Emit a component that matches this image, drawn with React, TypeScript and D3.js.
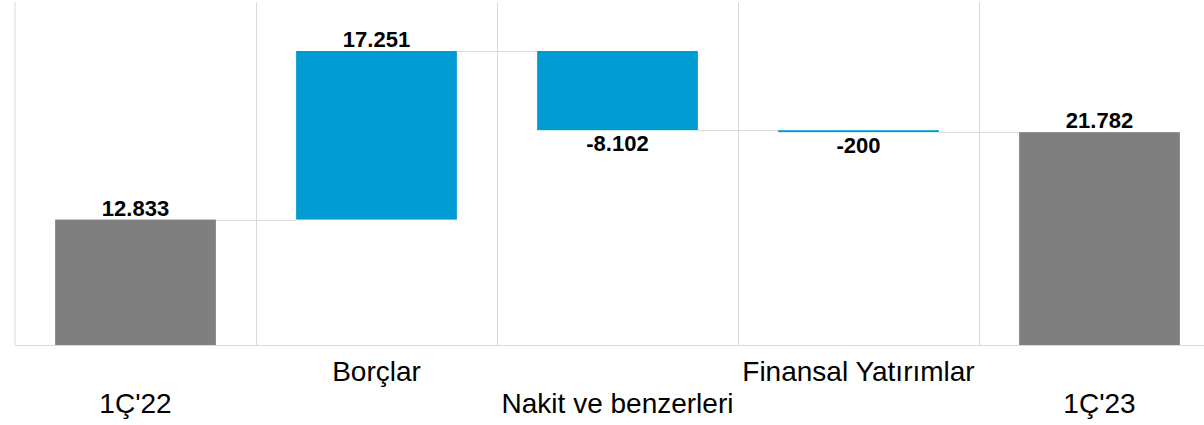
import React from 'react';
import * as d3 from 'd3';

const categories = ["1Ç'22", 'Borçlar', 'Nakit ve benzerleri', 'Finansal Yatırımlar', "1Ç'23"];
const values = [12833, 17251, -8102, -200, 21782];
const isTotal = [true, false, false, false, true];

const W = 1204;
const H = 425;
const left = 15;
const right = 1220; // last band runs past the picture edge
const top = 2;
const bottom = 345;

const trLocale = d3.formatLocale({ decimal: ',', thousands: '.', grouping: [3], currency: ['', ' TL'], minus: '-' });
const fmt = trLocale.format(',d');

const App: React.FC = () => {
  const x = d3.scaleBand<string>().domain(categories).range([left, right]);
  const y = d3.scaleLinear().domain([0, 35100]).range([bottom, top]);
  const bw = x.bandwidth() * 0.667;

  // running totals for the floating bars
  let run = 0;
  const bars = categories.map((c, i) => {
    const v = values[i];
    let from: number, to: number;
    if (isTotal[i]) {
      from = 0;
      to = v;
      run = v;
    } else {
      from = run;
      to = run + v;
      run = to;
    }
    return { c, v, from, to, end: run, total: isTotal[i] };
  });

  const font = "'Liberation Sans', Arial, sans-serif";

  return (
    <svg width={W} height={H} style={{ position: 'absolute', left: 0, top: 0, background: '#fff' }}>
      {/* grid */}
      <line x1={left} x2={left} y1={top} y2={bottom} stroke="#d9d9d9" />
      {categories.slice(1).map(c => (
        <line key={c} x1={x(c)! + 0.5} x2={x(c)! + 0.5} y1={top} y2={bottom} stroke="#d9d9d9" />
      ))}
      <line x1={left} x2={W} y1={bottom + 0.5} y2={bottom + 0.5} stroke="#d9d9d9" />

      {/* connectors */}
      {bars.slice(0, -1).map((b, i) => {
        const x1 = x(b.c)! + (x.bandwidth() + bw) / 2;
        const x2 = x(categories[i + 1])! + (x.bandwidth() - bw) / 2;
        const yy = Math.round(y(b.end)) + 0.5;
        return <line key={'k' + i} x1={x1} x2={x2} y1={yy} y2={yy} stroke="#d9d9d9" />;
      })}

      {/* bars */}
      {bars.map(b => {
        const y0 = y(Math.max(b.from, b.to));
        const y1 = y(Math.min(b.from, b.to));
        return (
          <rect
            key={b.c}
            x={x(b.c)! + (x.bandwidth() - bw) / 2}
            y={y0}
            width={bw}
            height={Math.max(y1 - y0, 1.5)}
            fill={b.total ? '#7f7f7f' : '#009bd2'}
          />
        );
      })}

      {/* value labels */}
      {bars.map(b => {
        const cx = x(b.c)! + x.bandwidth() / 2;
        const neg = b.v < 0;
        const yy = neg ? y(Math.min(b.from, b.to)) + 21 : y(Math.max(b.from, b.to)) - 4;
        return (
          <text key={'v' + b.c} x={cx} y={yy} textAnchor="middle" fontFamily={font} fontWeight="bold" fontSize={22} fill="#000">
            {fmt(b.v)}
          </text>
        );
      })}

      {/* category labels, staggered */}
      {categories.map((c, i) => (
        <text key={'c' + c} x={x(c)! + x.bandwidth() / 2} y={i % 2 === 0 ? 413 : 381} textAnchor="middle" fontFamily={font} fontSize={28} fill="#000">
          {c}
        </text>
      ))}
    </svg>
  );
};

export default App;
